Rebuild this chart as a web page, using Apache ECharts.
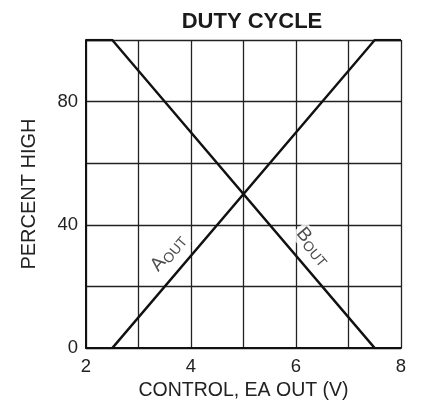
<!DOCTYPE html>
<html>
<head>
<meta charset="utf-8">
<script src="https://cdn.jsdelivr.net/npm/echarts@6/dist/echarts.min.js"></script>
<style>
  html, body { margin: 0; padding: 0; background: #fff; }
  #chart { width: 425px; height: 406px; }
</style>
</head>
<body>
<div id="chart"></div>
<script>
// control voltage (V) vs percent high
var aOut = [[2, 0], [2.5, 0], [7.5, 100], [8, 100]]
var bOut = [[2, 100], [2.5, 100], [7.5, 0], [8, 0]]
// curve labels: [x, y, text, angle]
var curveLabels = [
  [3.56, 31, 'A', 50],
  [6.33, 33, 'B', -50]
]

var font = 'Liberation Sans, Arial, sans-serif'
var chart = echarts.init(document.getElementById('chart'))

chart.setOption({
  animation: false,
  title: {
    text: 'DUTY CYCLE',
    left: 247,
    textAlign: 'center',
    top: 6,
    textStyle: { fontFamily: font, fontSize: 22, fontWeight: 'bold', color: '#1a1a1a' }
  },
  grid: { left: 86, right: 24, top: 40, bottom: 52 },
  xAxis: {
    type: 'value',
    min: 2,
    max: 8,
    interval: 1,
    name: 'CONTROL, EA OUT (V)',
    nameLocation: 'middle',
    nameGap: 29,
    nameTextStyle: { fontFamily: font, fontSize: 19.5, color: '#222' },
    axisLine: { lineStyle: { color: '#111', width: 2 } },
    axisTick: { show: false },
    axisLabel: {
      fontFamily: font, fontSize: 18.5, color: '#222', margin: 9,
      formatter: function (v) { return v % 2 === 0 ? String(v) : '' }
    },
    splitLine: { lineStyle: { color: '#222', width: 1.3 } }
  },
  yAxis: {
    type: 'value',
    min: 0,
    max: 100,
    interval: 20,
    name: 'PERCENT HIGH',
    nameLocation: 'middle',
    nameRotate: 90,
    nameGap: 47,
    nameTextStyle: { fontFamily: font, fontSize: 20, color: '#222' },
    axisLine: { show: true, lineStyle: { color: '#111', width: 2 } },
    axisTick: { show: false },
    axisLabel: {
      fontFamily: font, fontSize: 18.5, color: '#222', margin: 8,
      formatter: function (v) { return v % 40 === 0 ? String(v) : '' }
    },
    splitLine: { lineStyle: { color: '#222', width: 1.3 } }
  },
  series: [
    {
      name: 'A OUT',
      type: 'line',
      data: aOut,
      symbol: 'none',
      lineStyle: { color: '#111', width: 2.4 },
      z: 3
    },
    {
      name: 'B OUT',
      type: 'line',
      data: bOut,
      symbol: 'none',
      lineStyle: { color: '#111', width: 2.4 },
      z: 3
    },
    {
      type: 'scatter',
      silent: true,
      symbolSize: 0,
      z: 5,
      data: curveLabels.map(function (d) {
        return {
          value: [d[0], d[1]],
          label: {
            show: true,
            position: 'inside',
            rotate: d[3],
            formatter: '{a|' + d[2] + '}{s|OUT}',
            backgroundColor: '#fff',
            padding: [1, 3],
            rich: {
              a: { fontFamily: font, fontSize: 19, color: '#222', verticalAlign: 'bottom' },
              s: { fontFamily: font, fontSize: 14, color: '#222', verticalAlign: 'bottom', padding: [0, 0, -2, 0] }
            }
          }
        }
      })
    }
  ]
})
</script>
</body>
</html>
